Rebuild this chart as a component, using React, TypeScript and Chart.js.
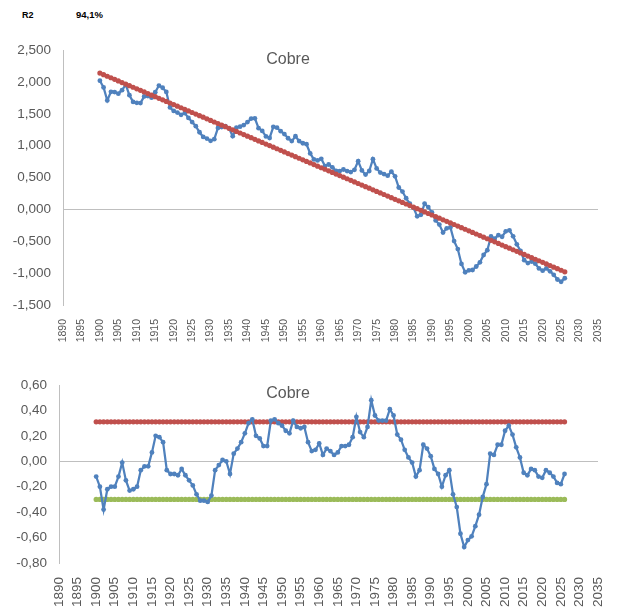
import { useEffect, useRef } from "react";
import Chart from "chart.js/auto";

// años 1900..2026 (una observación por año)
const FIRST_YEAR = 1900;
const LAST_YEAR = 2026;

// índice de precio del cobre (escala log)
const copperIndex = [
  2.02, 1.915, 1.71, 1.846, 1.841, 1.816, 1.871, 1.957, 1.792, 1.687,
  1.672, 1.668, 1.773, 1.778, 1.753, 1.839, 1.944, 1.909, 1.844, 1.6,
  1.545, 1.52, 1.485, 1.511, 1.436, 1.371, 1.306, 1.211, 1.137, 1.112,
  1.077, 1.102, 1.278, 1.293, 1.308, 1.273, 1.149, 1.284, 1.299, 1.324,
  1.37, 1.425, 1.43, 1.275, 1.231, 1.146, 1.121, 1.296, 1.282, 1.227,
  1.182, 1.117, 1.072, 1.148, 1.073, 1.038, 1.023, 0.879, 0.784, 0.769,
  0.794, 0.68, 0.705, 0.66, 0.605, 0.601, 0.626, 0.601, 0.586, 0.622,
  0.757, 0.612, 0.547, 0.603, 0.788, 0.643, 0.578, 0.554, 0.529, 0.594,
  0.519, 0.344, 0.28, 0.175, 0.09, 0.025, -0.109, -0.084, 0.091, 0.036,
  -0.048, -0.173, -0.238, -0.363, -0.297, -0.282, -0.497, -0.622, -0.856, -0.986,
  -0.956, -0.951, -0.896, -0.83, -0.715, -0.64, -0.425, -0.459, -0.404, -0.429,
  -0.344, -0.328, -0.423, -0.548, -0.653, -0.797, -0.842, -0.817, -0.852, -0.926,
  -0.961, -0.926, -0.971, -1.026, -1.1, -1.135, -1.08,
];

// tendencia lineal
const copperTrend = [
  2.14, 2.115, 2.09, 2.066, 2.041, 2.016, 1.991, 1.967, 1.942, 1.917,
  1.892, 1.868, 1.843, 1.818, 1.793, 1.769, 1.744, 1.719, 1.694, 1.67,
  1.645, 1.62, 1.595, 1.571, 1.546, 1.521, 1.496, 1.471, 1.447, 1.422,
  1.397, 1.372, 1.348, 1.323, 1.298, 1.273, 1.249, 1.224, 1.199, 1.174,
  1.15, 1.125, 1.1, 1.075, 1.051, 1.026, 1.001, 0.976, 0.952, 0.927,
  0.902, 0.877, 0.852, 0.828, 0.803, 0.778, 0.753, 0.729, 0.704, 0.679,
  0.654, 0.63, 0.605, 0.58, 0.555, 0.531, 0.506, 0.481, 0.456, 0.432,
  0.407, 0.382, 0.357, 0.333, 0.308, 0.283, 0.258, 0.234, 0.209, 0.184,
  0.159, 0.134, 0.11, 0.085, 0.06, 0.035, 0.011, -0.014, -0.039, -0.064,
  -0.088, -0.113, -0.138, -0.163, -0.187, -0.212, -0.237, -0.262, -0.286, -0.311,
  -0.336, -0.361, -0.386, -0.41, -0.435, -0.46, -0.485, -0.509, -0.534, -0.559,
  -0.584, -0.608, -0.633, -0.658, -0.683, -0.707, -0.732, -0.757, -0.782, -0.806,
  -0.831, -0.856, -0.881, -0.906, -0.93, -0.955, -0.98,
];

// desvío respecto de la tendencia
const copperDeviation = [
  -0.12, -0.2, -0.38, -0.22, -0.2, -0.2, -0.12, -0.01, -0.15, -0.23,
  -0.22, -0.2, -0.07, -0.04, -0.04, 0.07, 0.2, 0.19, 0.15, -0.07,
  -0.1, -0.1, -0.11, -0.06, -0.11, -0.15, -0.19, -0.26, -0.31, -0.31,
  -0.32, -0.27, -0.07, -0.03, 0.01, 0.0, -0.1, 0.06, 0.1, 0.15,
  0.22, 0.3, 0.33, 0.2, 0.18, 0.12, 0.12, 0.32, 0.33, 0.3,
  0.28, 0.24, 0.22, 0.32, 0.27, 0.26, 0.27, 0.15, 0.08, 0.09,
  0.14, 0.05, 0.1, 0.08, 0.05, 0.07, 0.12, 0.12, 0.13, 0.19,
  0.35, 0.23, 0.19, 0.27, 0.48, 0.36, 0.32, 0.32, 0.32, 0.41,
  0.36, 0.21, 0.17, 0.09, 0.03, -0.01, -0.12, -0.07, 0.13, 0.1,
  0.04, -0.06, -0.1, -0.2, -0.11, -0.07, -0.26, -0.36, -0.57, -0.675,
  -0.62, -0.59, -0.51, -0.42, -0.28, -0.18, 0.06, 0.05, 0.13, 0.13,
  0.24, 0.28, 0.21, 0.11, 0.03, -0.09, -0.11, -0.06, -0.07, -0.12,
  -0.13, -0.07, -0.09, -0.12, -0.17, -0.18, -0.1,
];

// bandas (+/- desvío)
const UPPER_BAND = 0.31;
const LOWER_BAND = -0.3;

const R2_LABEL = "R2";
const R2_VALUE = "94,1%";
const TITLE = "Cobre";

const BLUE = "#4F81BD";
const RED = "#C0504D";
const GREEN = "#9BBB59";
const TEXT = "#595959";
const AXIS = "#BFBFBF";
const FONT = "'Liberation Sans', Arial, sans-serif";

const years = Array.from({ length: LAST_YEAR - FIRST_YEAR + 1 }, (_, i) => FIRST_YEAR + i);
const toPoints = (values: number[]) => years.map((x, i) => ({ x, y: values[i] }));

// título dentro del área del gráfico, como en Excel
const insideTitle = {
    id: "insideTitle",
    afterDraw(chart: any) {
        const { ctx, chartArea } = chart;
        ctx.save();
        ctx.font = `16px ${FONT}`;
        ctx.fillStyle = TEXT;
        ctx.textAlign = "center";
        ctx.textBaseline = "top";
        ctx.fillText(TITLE, 288, chartArea.top + 1);
        ctx.restore();
    },
};

function commaFixed(v: number, digits: number) {
    const n = Math.abs(Number(v)) < 1e-9 ? 0 : Number(v);
    return n.toFixed(digits).replace(".", ",");
}

function buildOptions(cfg: {
    yMin: number; yMax: number; yStep: number; digits: number;
    yWidth: number; xHeight: number; yFont: number; xFont: number; padTop: number;
}) {
    return {
        animation: false as const,
        responsive: false,
        maintainAspectRatio: false,
        layout: { padding: { left: 0, right: 24, top: cfg.padTop, bottom: 0 } },
        plugins: { legend: { display: false }, tooltip: { enabled: false }, title: { display: false } },
        scales: {
            x: {
                type: "linear" as const,
                min: 1890,
                max: 2035,
                grid: { display: false },
                border: { display: false },
                afterFit: (scale: any) => { scale.height = cfg.xHeight; },
                ticks: {
                    stepSize: 5,
                    autoSkip: false,
                    minRotation: 90,
                    maxRotation: 90,
                    padding: 6,
                    color: TEXT,
                    font: { family: FONT, size: cfg.xFont },
                    callback: (v: any) => String(v),
                },
            },
            y: {
                min: cfg.yMin,
                max: cfg.yMax,
                afterFit: (scale: any) => { scale.width = cfg.yWidth; },
                border: { display: true, color: AXIS, width: 1 },
                grid: {
                    drawTicks: false,
                    tickLength: 0,
                    color: (ctx: any) => (Math.abs(ctx.tick?.value ?? 1) < 1e-9 ? AXIS : "rgba(0,0,0,0)"),
                },
                ticks: {
                    stepSize: cfg.yStep,
                    padding: 12,
                    color: TEXT,
                    font: { family: FONT, size: cfg.yFont },
                    callback: (v: any) => commaFixed(v, cfg.digits),
                },
            },
        },
    };
}

function lineSet(label: string, values: number[], color: string, width: number, radius: number) {
    return {
        label,
        data: toPoints(values),
        borderColor: color,
        backgroundColor: color,
        borderWidth: width,
        pointRadius: radius,
        pointBorderWidth: 0,
        pointBackgroundColor: color,
        tension: 0,
    };
}

function TrendChart() {
    const canvasRef = useRef<HTMLCanvasElement | null>(null);

    useEffect(() => {
        const canvas = canvasRef.current;
        if (!canvas) return;
        const chart = new Chart(canvas, {
            type: "line",
            data: {
                datasets: [
                    lineSet("Tendencia", copperTrend, RED, 2.5, 2.6),
                    lineSet("Cobre", copperIndex, BLUE, 2.25, 2.4),
                ],
            },
            options: buildOptions({
                yMin: -1.5, yMax: 2.5, yStep: 0.5, digits: 3,
                yWidth: 63, xHeight: 45, yFont: 13.5, xFont: 10.5, padTop: 16,
            }) as any,
            plugins: [insideTitle],
        });
        return () => chart.destroy();
    }, []);

    return <canvas ref={canvasRef} width={622} height={320} style={{ position: "absolute", left: 0, top: 30, width: 622, height: 320 }} />;
}

function DeviationChart() {
    const canvasRef = useRef<HTMLCanvasElement | null>(null);

    useEffect(() => {
        const canvas = canvasRef.current;
        if (!canvas) return;
        const chart = new Chart(canvas, {
            type: "line",
            data: {
                datasets: [
                    lineSet("Desvío", copperDeviation, BLUE, 2.25, 2.4),
                    lineSet("Banda superior", years.map(() => UPPER_BAND), RED, 2.5, 2.6),
                    lineSet("Banda inferior", years.map(() => LOWER_BAND), GREEN, 2.5, 2.6),
                ],
            },
            options: buildOptions({
                yMin: -0.8, yMax: 0.6, yStep: 0.2, digits: 2,
                yWidth: 59, xHeight: 51, yFont: 13.5, xFont: 13.5, padTop: 25,
            }) as any,
            plugins: [insideTitle],
        });
        return () => chart.destroy();
    }, []);

    return <canvas ref={canvasRef} width={622} height={254} style={{ position: "absolute", left: 0, top: 360, width: 622, height: 254 }} />;
}

export default function App() {
    return (
        <div style={{ position: "fixed", left: 0, top: 0, width: 622, height: 614, background: "#fff", overflow: "hidden", fontFamily: FONT }}>
            <span style={{ position: "absolute", left: 22, top: 9, fontSize: 9, fontWeight: 700, color: "#000", lineHeight: "12px" }}>{R2_LABEL}</span>
            <span style={{ position: "absolute", left: 76, top: 9, fontSize: 9.5, fontWeight: 700, color: "#000", lineHeight: "12px" }}>{R2_VALUE}</span>
            <TrendChart />
            <DeviationChart />
        </div>
    );
}
